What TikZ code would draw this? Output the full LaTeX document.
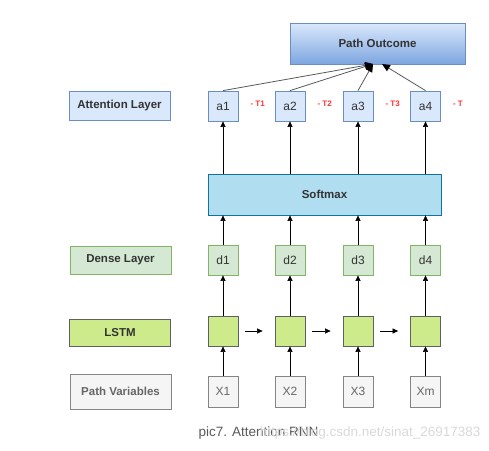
\documentclass[tikz,border=0pt]{standalone}
\usepackage{fontspec}
\setmainfont{Liberation Sans}
\usetikzlibrary{arrows.meta}
\definecolor{attfill}{HTML}{DAE8FC}
\definecolor{attline}{HTML}{6C8EBF}
\definecolor{outbot}{HTML}{7EA6E0}
\definecolor{smfill}{HTML}{B1DDF0}
\definecolor{smline}{HTML}{10739E}
\definecolor{dnfill}{HTML}{D5E8D4}
\definecolor{dnline}{HTML}{82B366}
\definecolor{lsfill}{HTML}{CDEB8B}
\definecolor{lsline}{HTML}{36393D}
\definecolor{pvfill}{HTML}{F5F5F5}
\definecolor{pvline}{HTML}{666666}
\definecolor{txtdark}{HTML}{333333}
\definecolor{tred}{HTML}{FF3333}
\begin{document}
\begin{tikzpicture}[
  x=1pt, y=-1pt,
  lbl/.style={draw, thick, inner sep=0pt, minimum width=101pt, font=\fontsize{11.5}{13}\selectfont\bfseries, text=txtdark},
  cell/.style={draw, thick, inner sep=0pt, minimum width=30pt, minimum height=30pt, font=\fontsize{12}{14}\selectfont, text=txtdark},
  attbox/.style={fill=attfill, draw=attline},
  dnbox/.style={fill=dnfill, draw=dnline},
  lsbox/.style={fill=lsfill, draw=lsline!80},
  pvbox/.style={fill=pvfill, draw=pvline!80, text=pvline},
  tlabel/.style={font=\fontsize{8}{9}\selectfont\bfseries, text=tred},
  uparrow/.style={-{Triangle[length=5.5pt,width=5pt]}, semithick, black},
  outarrow/.style={-{Triangle[length=8pt,width=7pt,color=black]}, thick, black!65}
]
  % Marco de la imagen
  \useasboundingbox (0,0) rectangle (489,450);

  % Salida y softmax
  \node[draw=attline, thick, top color=attfill, bottom color=outbot, minimum width=175pt, minimum height=41pt,
        font=\fontsize{11.5}{13}\selectfont\bfseries, text=txtdark] (out) at (377.5,43.5) {Path Outcome};
  \node[draw=smline, thick, fill=smfill, minimum width=233pt, minimum height=41pt,
        font=\fontsize{11.5}{13}\selectfont\bfseries, text=txtdark] (sm) at (324.5,194.5) {Softmax};

  % Etiquetas de capa
  \node[lbl, attbox, minimum height=29pt] (attlbl) at (119.5,105.5) {Attention Layer};
  \node[lbl, dnbox, minimum height=28pt]  (dnlbl)  at (120.5,260)   {Dense Layer};
  \node[lbl, lsbox, minimum height=27pt]  (lslbl)  at (120,332.5)   {LSTM};
  \node[lbl, pvbox, minimum height=35pt]  (pvlbl)  at (120.5,391.5) {Path Variables};

  % Columnas
  \foreach \i/\cx/\xn/\tn in {1/223/X1/- T1, 2/290/X2/- T2, 3/358/X3/- T3, 4/425.5/Xm/- T} {
    \node[cell, attbox] (a\i) at (\cx,106) {a\i};
    \node[cell, dnbox]  (d\i) at (\cx,260) {d\i};
    \node[cell, lsbox]  (l\i) at (\cx,331) {};
    \node[cell, pvbox, minimum height=31pt] (x\i) at (\cx,391.5) {\xn};
    \node[tlabel, anchor=west] (t\i) at (\cx+24,103.5) {\tn};

    % Flechas verticales
    \draw[uparrow] (x\i) -- (l\i);
    \draw[uparrow] (l\i) -- (d\i);
    \draw[uparrow] (d\i.north) -- (d\i.north |- sm.south);
    \draw[uparrow] (a\i.south |- sm.north) -- (a\i.south);
  }

  % Recurrencia LSTM
  \draw[uparrow, shorten <=7pt, shorten >=12pt] (l1) -- (l2);
  \draw[uparrow, shorten <=7pt, shorten >=12pt] (l2) -- (l3);
  \draw[uparrow, shorten <=7pt, shorten >=12pt] (l3) -- (l4);

  % Atencion hacia la salida
  \coordinate (in1) at (373,64);
  \coordinate (in2) at (382,64);
  \draw[outarrow] (a1.north) -- (in1);
  \draw[outarrow] (a2.north) -- (in1);
  \draw[outarrow] (a3.north) -- (in1);
  \draw[outarrow] (a4.north) -- (in2);

  % Pie de figura
  \node[font=\fontsize{13.5}{15}\selectfont, text=black!65, anchor=west] (cap) at (195,433) {pic7. Attention RNN};
  \node[font=\fontsize{13.5}{15}\selectfont, text=black!15, anchor=east] (wm) at (484,433) {https://blog.csdn.net/sinat\_26917383};
\end{tikzpicture}
\end{document}
